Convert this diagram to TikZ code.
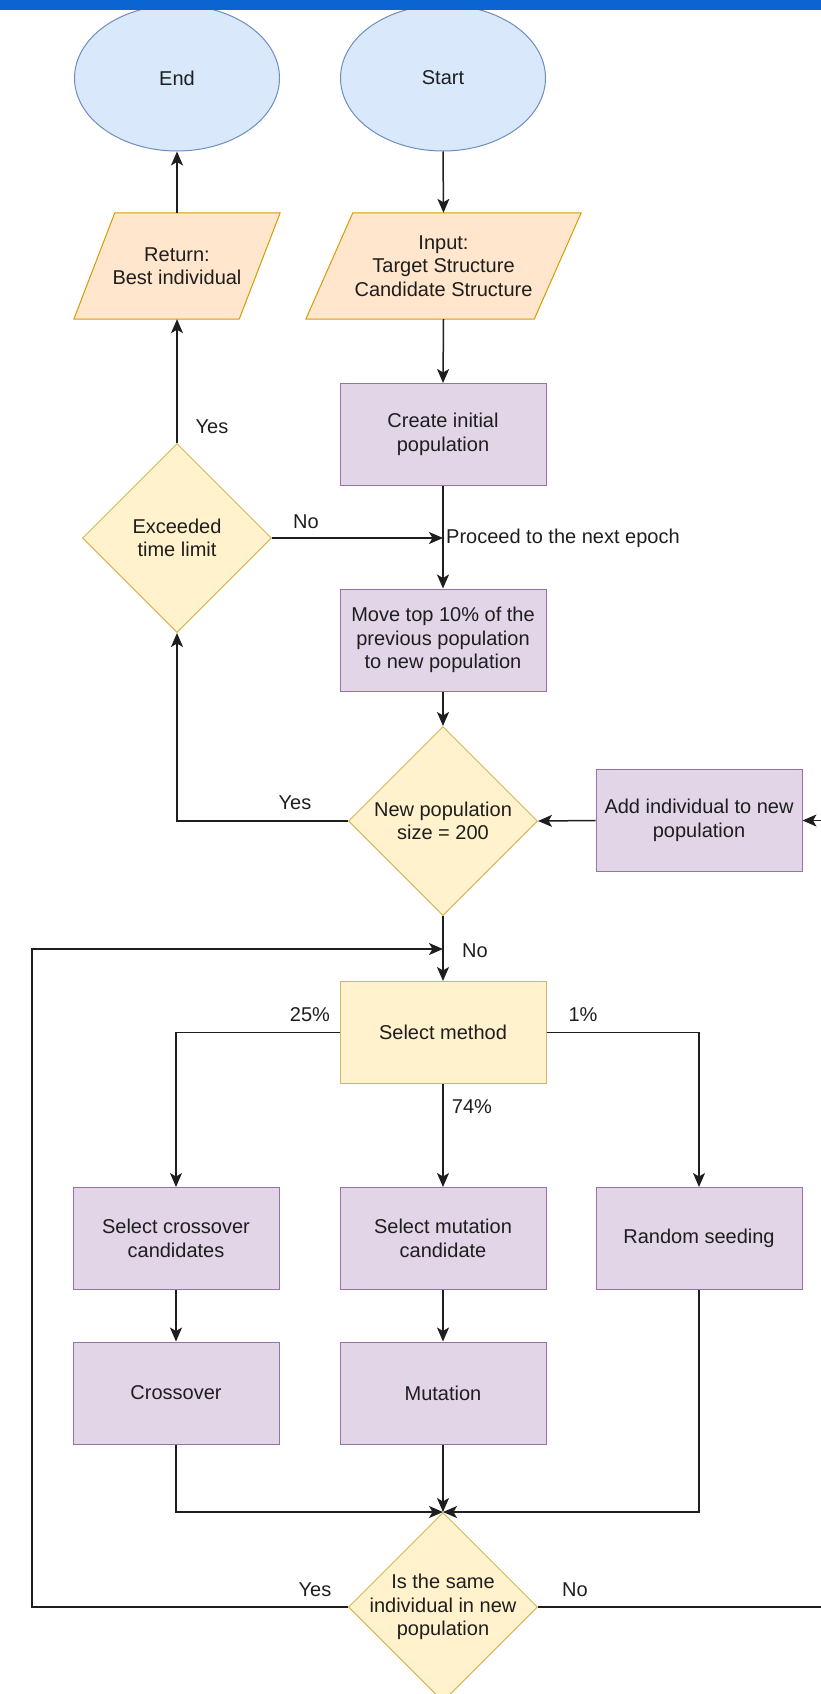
\documentclass[tikz,border=0pt]{standalone}
\usepackage{fontspec}
\setmainfont{Liberation Sans}
\usetikzlibrary{shapes.geometric,arrows.meta,calc,backgrounds}
\definecolor{blueF}{HTML}{DAE8FC}\definecolor{blueD}{HTML}{6C8EBF}
\definecolor{orF}{HTML}{FFE6CC}\definecolor{orD}{HTML}{D79B00}
\definecolor{puF}{HTML}{E1D5E7}\definecolor{puD}{HTML}{9673A6}
\definecolor{yeF}{HTML}{FFF2CC}\definecolor{yeD}{HTML}{D6B656}
\definecolor{ln}{HTML}{1E1E1E}
\definecolor{barc}{HTML}{0A64D2}
\begin{document}
\begin{tikzpicture}[x=1pt,y=-1pt,
 every node/.style={font=\fontsize{20}{23.5}\selectfont, text=ln},
 term/.style={ellipse, draw=blueD, fill=blueF, line width=1pt, minimum width=205pt, minimum height=146pt},
 io/.style={draw=none, minimum height=106pt, align=center, inner sep=0pt},
 iodraw/.style={draw=orD, fill=orF, line width=1pt, line join=round},
 proc/.style={rectangle, draw=puD, fill=puF, line width=1pt, minimum width=206pt, minimum height=102pt, align=center, inner sep=2pt},
 sel/.style={proc, draw=yeD, fill=yeF},
 dec/.style={diamond, draw=yeD, fill=yeF, line width=1pt, minimum width=189pt, minimum height=189pt, inner sep=0pt},
 dtext/.style={align=center, inner sep=0pt},
 conn/.style={draw=ln, line width=1.5pt, -{Stealth[length=14pt, width=12pt, inset=3.5pt]}},
 lab/.style={inner sep=0pt}
]
\useasboundingbox (0,0) rectangle (821,1694);
\clip (0,0) rectangle (821,1694);

% terminals
\node[term] (endn) at (177,78) {End};
\node[term] (start) at (443,78) {Start};

% input / output
\node[io, minimum width=206pt] (ret) at (177,266) {Return:\\Best individual};
\node[io, minimum width=275pt] (input) at (443.5,266) {Input:\\Target Structure\\Candidate Structure};
\begin{scope}[on background layer]
\draw[iodraw] ($(ret.north west)+(41,0)$) -- (ret.north east) -- ($(ret.south east)-(41,0)$) -- (ret.south west) -- cycle;
\draw[iodraw] ($(input.north west)+(47,0)$) -- (input.north east) -- ($(input.south east)-(47,0)$) -- (input.south west) -- cycle;
\end{scope}

% processes
\node[proc] (create) at (443,434.5) {Create initial\\population};
\node[dec] (exc) at (177,538) {};
\node[dtext] (exct) at (exc) {Exceeded\\time limit};
\node[proc] (move) at (443,640) {Move top 10\% of the\\previous population\\to new population};
\node[dec] (newpop) at (443,821) {};
\node[dtext] (newpopt) at (newpop) {New population\\size = 200};
\node[proc] (add) at (699,820.5) {Add individual to new\\population};
\node[sel] (select) at (443,1032.5) {Select method};
\node[proc] (scx) at (176,1238.5) {Select crossover\\candidates};
\node[proc] (smut) at (443,1238.5) {Select mutation\\candidate};
\node[proc] (rand) at (699,1238.5) {Random seeding};
\node[proc] (cross) at (176,1393) {Crossover};
\node[proc] (mut) at (443,1393) {Mutation};
\node[dec] (same) at (443,1607) {};
\node[dtext] (samet) at (same) {Is the same\\individual in new\\population};

% coordinates
\coordinate (proceed) at (443,538);
\coordinate (merge) at (443,949);
\coordinate (loopc) at (32,949);
\coordinate (rc) at (860,820.5);

% connectors
\draw[conn] (ret.north) -- (endn.south);
\draw[conn] (start.south) -- (input.north);
\draw[conn] (input.south) -- (create.north);
\draw[conn] (create.south) -- (move.north);
\draw[conn] (exc.east) -- (proceed);
\draw[conn] (exc.north) -- (ret.south);
\draw[conn] (move.south) -- (newpop.north);
\draw[conn] (newpop.west) -| (exc.south);
\draw[conn] (add.west) -- (newpop.east);
\draw[conn] (newpop.south) -- (select.north);
\draw[conn] (same.west) -| (loopc) -- (merge);
\draw[conn] (select.west) -| (scx.north);
\draw[conn] (select.east) -| (rand.north);
\draw[conn] (select.south) -- (smut.north);
\draw[conn] (scx.south) -- (cross.north);
\draw[conn] (smut.south) -- (mut.north);
\draw[conn] (cross.south) |- (same.north);
\draw[conn] (mut.south) -- (same.north);
\draw[conn] (rand.south) |- (same.north);
\draw[conn] (same.east) -| (rc) -- (add.east);

% labels
\node[lab, anchor=west] (proceedt) at (446,538) {Proceed to the next epoch};
\node[lab] (l1) at (212,427) {Yes};
\node[lab] (l2) at (306,522) {No};
\node[lab] (l3) at (295,803) {Yes};
\node[lab] (l4) at (475,951) {No};
\node[lab] (l5) at (310,1015) {25\%};
\node[lab] (l6) at (583,1015) {1\%};
\node[lab] (l7) at (472,1107) {74\%};
\node[lab] (l8) at (315,1590) {Yes};
\node[lab] (l9) at (575,1590) {No};

% top bar
\fill[barc] (0,0) rectangle (821,10);
\end{tikzpicture}
\end{document}
